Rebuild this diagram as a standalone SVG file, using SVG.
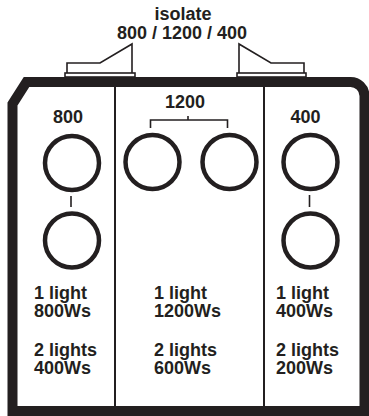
<svg xmlns="http://www.w3.org/2000/svg" width="369" height="416" viewBox="0 0 369 416">
<style>
.t{font-family:"Liberation Sans",Arial,sans-serif;font-weight:bold;font-size:18px;fill:#231f20}
.c{text-anchor:middle}
.ring{fill:none;stroke:#231f20;stroke-width:4.5}
.thin{fill:none;stroke:#231f20;stroke-width:1.6}
.div{stroke:#231f20;stroke-width:2}
</style>
<rect width="369" height="416" fill="#fff"/>
<g id="header">
<text class="t c" x="183" y="20">isolate</text>
<text class="t c" x="182" y="39">800 / 1200 / 400</text>
</g>
<g id="switch-left">
<polyline class="thin" points="67,73 67,63 100,63 132,44 132,73"/>
<rect class="thin" x="65" y="73" width="70" height="4" fill="#fff"/>
</g>
<g id="switch-right">
<polyline class="thin" points="239,73 239,44 271,63 304,63 304,73"/>
<rect class="thin" x="237" y="73" width="69" height="4" fill="#fff"/>
</g>
<g id="frame">
<path d="M12.5,104 L26.5,82 L350,82 A14,14 0 0 1 364.5,96 L364.5,411 L12.5,411 Z" fill="none" stroke="#231f20" stroke-width="10" stroke-linejoin="miter"/>
<line class="div" x1="115" y1="87" x2="115" y2="406"/>
<line class="div" x1="264" y1="87" x2="264" y2="406"/>
</g>
<g id="col-800">
<text class="t c" x="68" y="123">800</text>
<circle class="ring" cx="72" cy="163" r="27"/>
<circle class="ring" cx="72" cy="240.5" r="27"/>
<text class="t" x="34" y="299">1 light</text>
<text class="t" x="34" y="317">800Ws</text>
<text class="t" x="34" y="356">2 lights</text>
<text class="t" x="34" y="374">400Ws</text>
</g>
<g id="col-1200">
<text class="t c" x="185" y="108">1200</text>
<circle class="ring" cx="152.5" cy="162" r="27"/>
<circle class="ring" cx="229.5" cy="162" r="27"/>
<text class="t" x="154" y="299">1 light</text>
<text class="t" x="154" y="317">1200Ws</text>
<text class="t" x="154" y="356">2 lights</text>
<text class="t" x="154" y="374">600Ws</text>
</g>
<g id="col-400">
<text class="t c" x="305.5" y="123">400</text>
<circle class="ring" cx="310.5" cy="162" r="27"/>
<circle class="ring" cx="310.5" cy="240.5" r="27"/>
<text class="t" x="276" y="299">1 light</text>
<text class="t" x="276" y="317">400Ws</text>
<text class="t" x="276" y="356">2 lights</text>
<text class="t" x="276" y="374">200Ws</text>
</g>
<g id="connectors">
<line class="thin" x1="71" y1="196" x2="71" y2="207" stroke-width="2.2"/>
<line class="thin" x1="309.5" y1="195" x2="309.5" y2="207" stroke-width="2.2"/>
<polyline class="thin" points="150.5,128 150.5,120 227.5,120 227.5,128"/>
<line class="thin" x1="188" y1="116" x2="188" y2="120"/>
</g>
</svg>
